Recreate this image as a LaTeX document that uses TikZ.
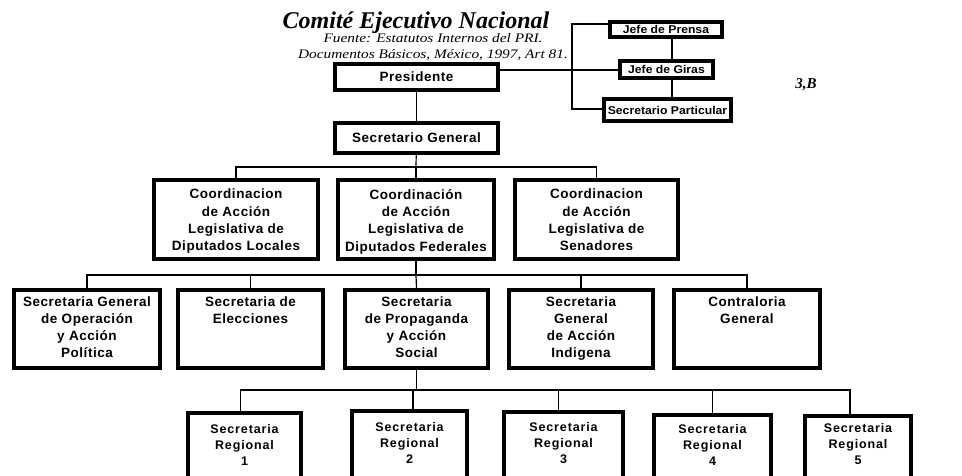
\documentclass[tikz,border=0pt]{standalone}
\usepackage{fontspec}
\setmainfont{Liberation Serif}
\newfontfamily\bxfont[LetterSpace=4]{Liberation Sans}
\newfontfamily\sbxfont[LetterSpace=7]{Liberation Sans}
\newfontfamily\tpfont[FakeStretch=1.08]{Liberation Sans}
\newfontfamily\srcfont[FakeStretch=1.18]{Liberation Serif}
\tikzset{
  obox/.style={draw, line width=4pt, inner sep=0pt, fill=white},
  conn/.style={line width=1.2pt},
  btxt/.style={font=\bxfont\bfseries\fontsize{13.5}{17.3}\selectfont, align=center, inner sep=0pt, anchor=north},
  rtxt/.style={font=\bxfont\bfseries\fontsize{13.5}{16.7}\selectfont, align=center, inner sep=0pt, anchor=north},
  stxt/.style={font=\sbxfont\bfseries\fontsize{12.5}{16}\selectfont, align=center, inner sep=0pt, anchor=north},
  onetxt/.style={font=\bxfont\bfseries\fontsize{13.5}{16}\selectfont},
  toptxt/.style={font=\tpfont\bfseries\fontsize{11.3}{13}\selectfont},
  srctxt/.style={font=\srcfont\itshape\fontsize{13}{15}\selectfont, anchor=base},
}
% name, x1, y1, x2, y2, style, text
\newcommand\orgbox[7]{%
  \node[obox, #6, minimum width={#4-#2-4}, minimum height={#5-#3-4}] (#1)
    at ({(#2+#4)/2},{(#3+#5)/2}) {#7};}
\begin{document}
\begin{tikzpicture}[x=1pt,y=-1pt]
\useasboundingbox (0,0) rectangle (962,475);
\clip (0,0) rectangle (962,475);

% heading
\node[font=\bfseries\itshape\fontsize{24}{28}\selectfont, anchor=base] (title) at (416,28) {Comité Ejecutivo Nacional};
\node[srctxt] (src1) at (433,42) {Fuente: Estatutos Internos del PRI.};
\node[srctxt] (src2) at (433,58) {Documentos Básicos, México, 1997, Art 81.};
\node[font=\bfseries\itshape\fontsize{15}{18}\selectfont, anchor=base] (tag) at (806,88) {3,B};

% top
\orgbox{pres}{333}{62}{500}{92}{onetxt}{Presidente}
\orgbox{sg}{333}{121}{500}{155}{onetxt}{Secretario General}
\orgbox{pr}{608}{20}{724}{39}{toptxt}{Jefe de Prensa}
\orgbox{gi}{618}{59}{715}{80}{toptxt}{Jefe de Giras}
\orgbox{sp}{602}{97}{733}{123}{toptxt}{Secretario Particular}

% coordinations
\orgbox{cL}{152}{178}{320}{261}{}{}
\orgbox{cM}{336}{178}{496}{261}{}{}
\orgbox{cR}{513}{178}{680}{261}{}{}
\node[btxt] (cLt) at (cL.north |- 0,189) {Coordinacion\\de Acción\\Legislativa de\\Diputados Locales};
\node[btxt] (cMt) at (cM.north |- 0,189) {Coordinación\\de Acción\\Legislativa de\\Diputados Federales};
\node[btxt] (cRt) at (cR.north |- 0,189) {Coordinacion\\de Acción\\Legislativa de\\Senadores};

% secretarias
\orgbox{r1}{12}{288}{162}{370}{}{}
\orgbox{r2}{176}{288}{325}{370}{}{}
\orgbox{r3}{343}{288}{490}{370}{}{}
\orgbox{r4}{507}{288}{655}{370}{}{}
\orgbox{r5}{672}{288}{822}{370}{}{}
\node[rtxt] (r1t) at (r1.north |- 0,297) {Secretaria General\\de Operación\\y Acción\\Política};
\node[rtxt] (r2t) at (r2.north |- 0,297) {Secretaria de\\Elecciones};
\node[rtxt] (r3t) at (r3.north |- 0,297) {Secretaria\\de Propaganda\\y Acción\\Social};
\node[rtxt] (r4t) at (r4.north |- 0,297) {Secretaria\\General\\de Acción\\Indigena};
\node[rtxt] (r5t) at (r5.north |- 0,297) {Contraloria\\General};

% regional
\orgbox{s1}{186}{411}{303}{495}{}{}
\orgbox{s2}{350}{409}{469}{495}{}{}
\orgbox{s3}{502}{410}{625}{495}{}{}
\orgbox{s4}{652}{413}{773}{495}{}{}
\orgbox{s5}{803}{414}{913}{495}{}{}
\node[stxt] (s1t) at (s1.north |- 0,424) {Secretaria\\Regional\\1};
\node[stxt] (s2t) at (s2.north |- 0,422) {Secretaria\\Regional\\2};
\node[stxt] (s3t) at (s3.north |- 0,422) {Secretaria\\Regional\\3};
\node[stxt] (s4t) at (s4.north |- 0,424) {Secretaria\\Regional\\4};
\node[stxt] (s5t) at (s5.north |- 0,423) {Secretaria\\Regional\\5};

% connectors
\coordinate (h1) at (416,167);
\coordinate (h2) at (416,275);
\coordinate (h3) at (413,390);
\coordinate (b1) at (572,24);
\coordinate (b2) at (572,109);
\coordinate (v1) at (672,0);
\coordinate (pg) at (0,70);

\draw[conn] (pres) -- (sg);
\draw[conn] (sg) -- (h1);
\draw[conn] (cL.north) |- (h1) -| (cR.north);
\draw[conn] (h1) -- (cM.north);

\draw[conn] (cM) -- (h2);
\draw[conn] (r1.north) |- (h2) -| (r5.north);
\draw[conn] (r2.north) -- (r2.north |- h2);
\draw[conn] (r3.north) -- (h2);
\draw[conn] (r4.north) -- (r4.north |- h2);

\draw[conn] (r3.south) -- (r3.south |- h3);
\draw[conn] ([xshift=-4pt]s1.north) |- (h3);
\draw[conn] (h3) -| ([xshift=-8pt]s5.north);
\draw[conn] (s2.north -| h3) -- (h3);
\draw[conn] ([xshift=-5pt]s3.north) -- ([xshift=-5pt]s3.north |- h3);
\draw[conn] (s4.north) -- (s4.north |- h3);

\draw[conn] (pr.west |- b1) -- (b1) -- (b2) -- (sp.west |- b2);
\draw[conn] (pres.east |- pg) -- (gi.west |- pg);
\draw[conn] (pr.south -| v1) -- (gi.north -| v1);
\draw[conn] (gi.south -| v1) -- (sp.north -| v1);
\end{tikzpicture}
\end{document}
